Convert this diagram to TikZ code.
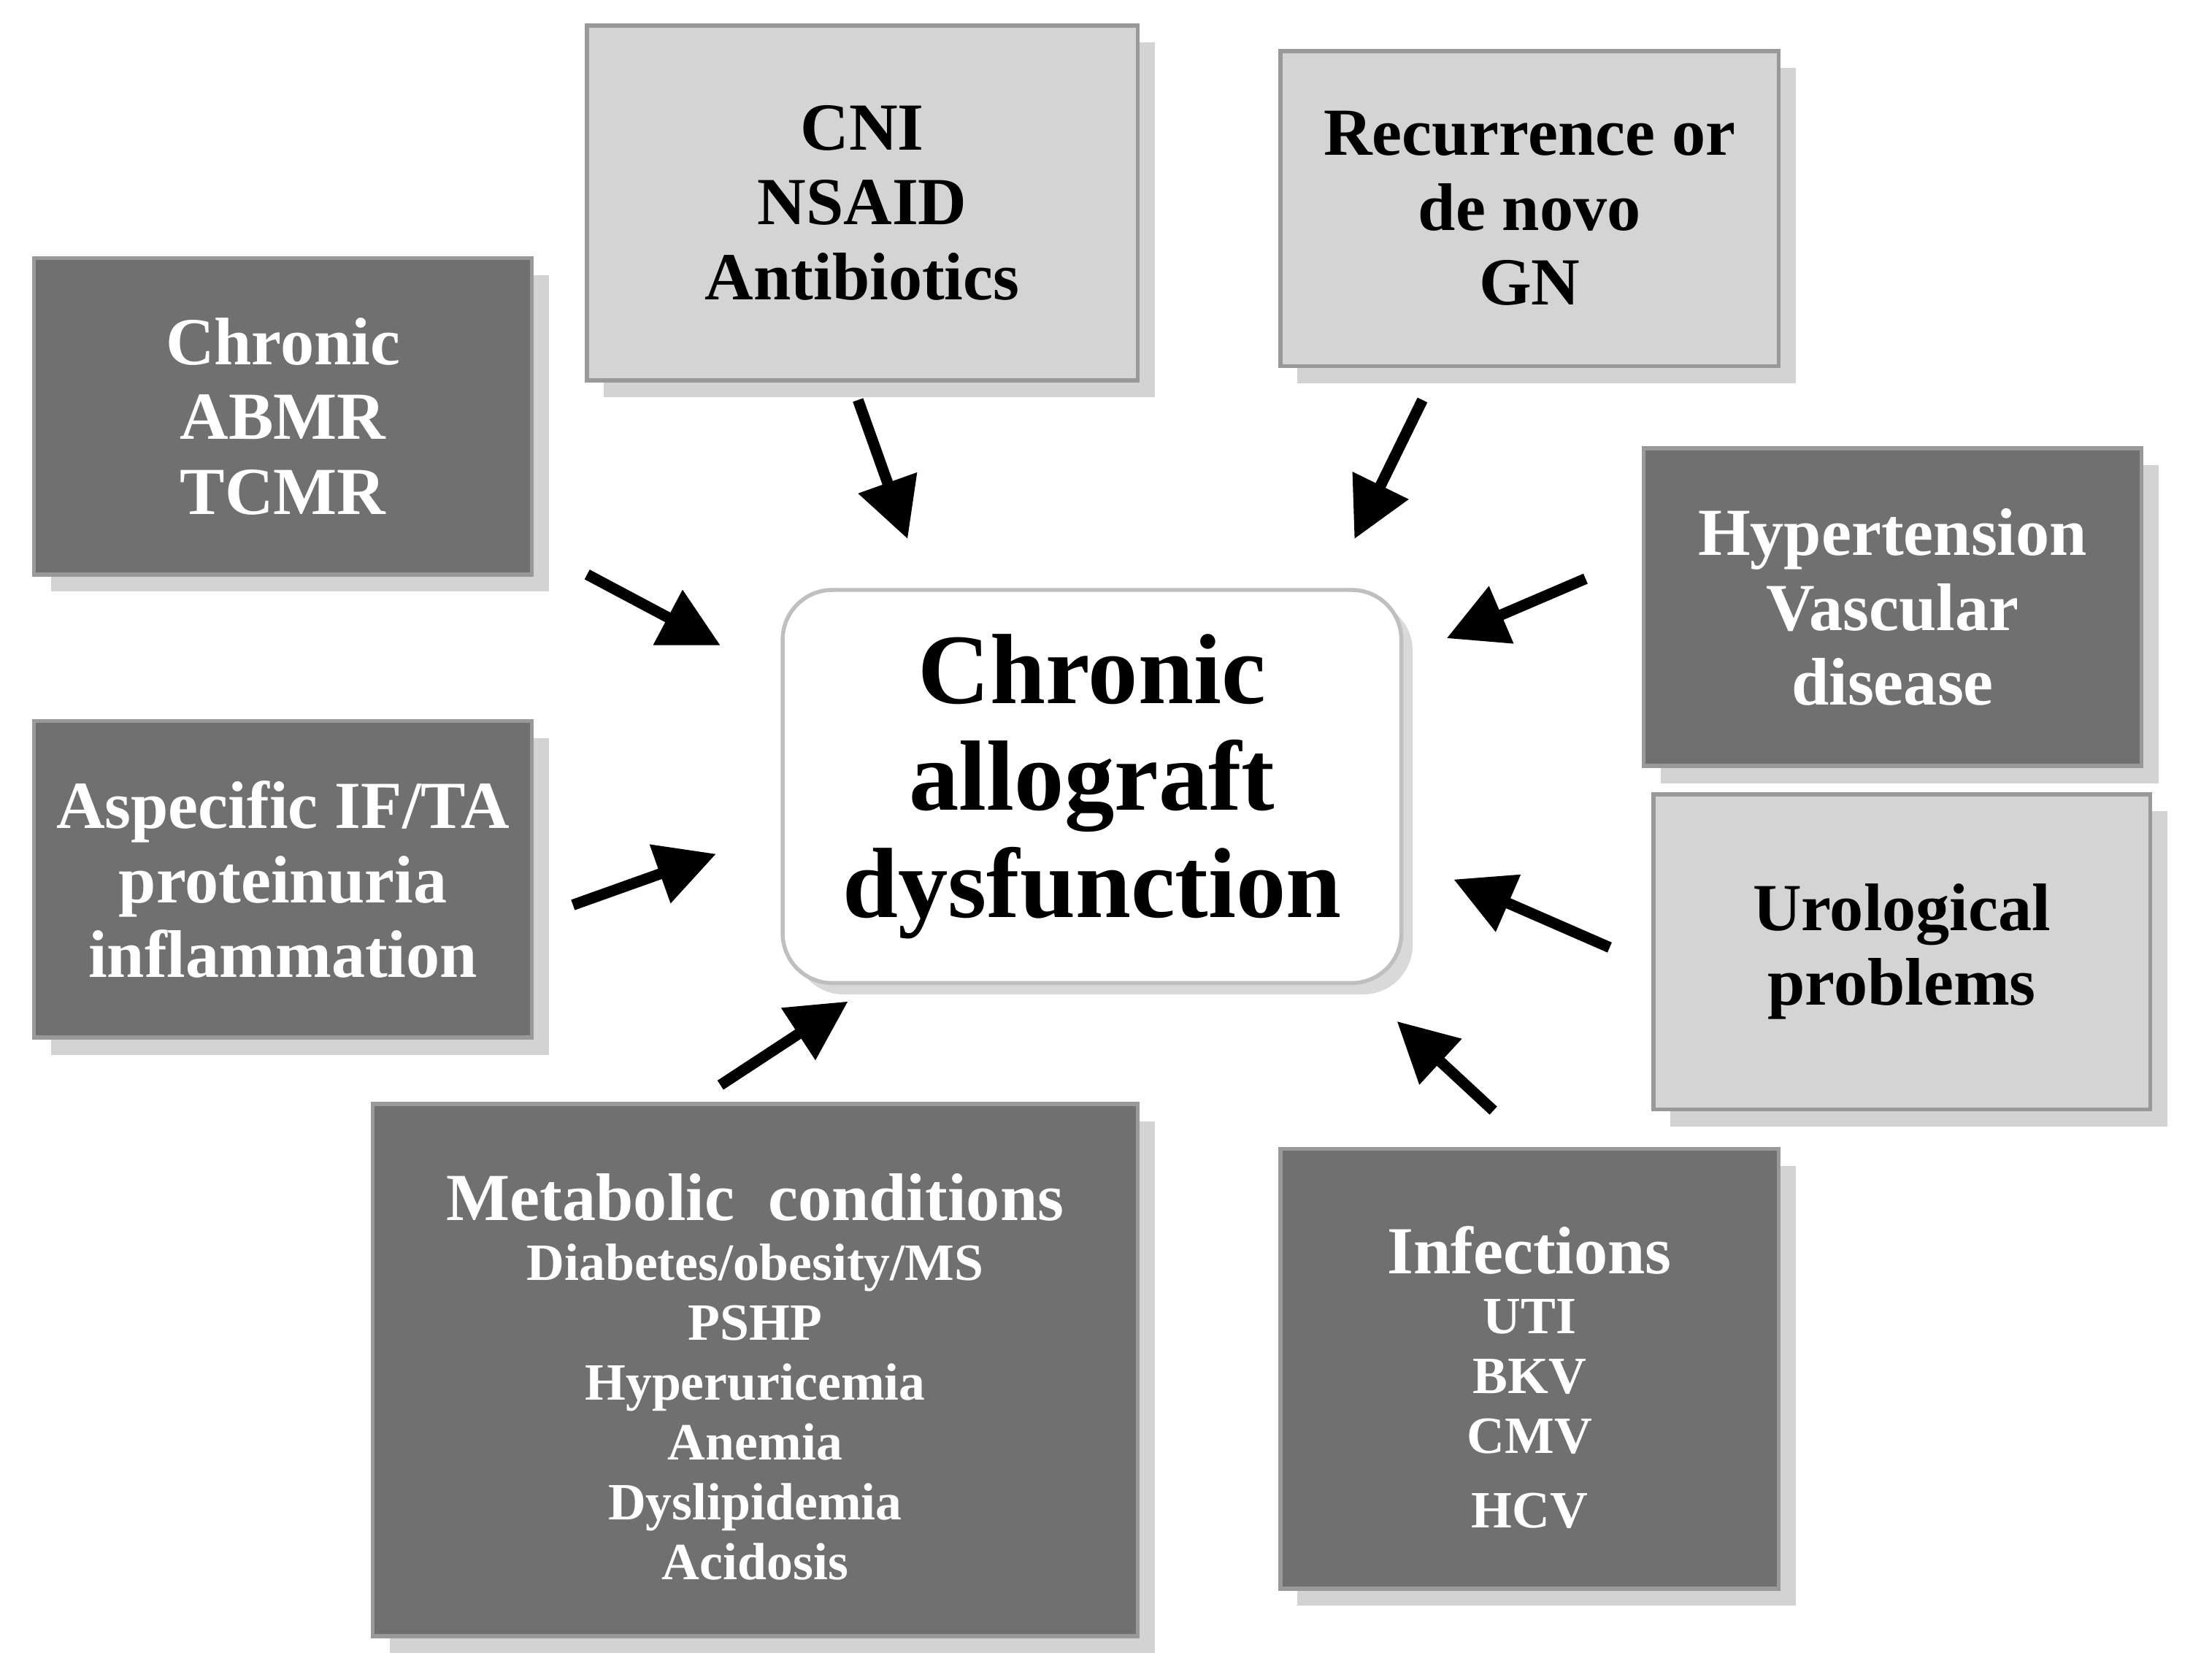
\documentclass[tikz,border=0pt]{standalone}
\usepackage{fontspec}
\setmainfont{Liberation Serif}
\usetikzlibrary{arrows.meta,shadows}
\definecolor{darkbox}{HTML}{707070}
\definecolor{lightbox}{HTML}{D4D4D4}
\newcommand{\headsize}{\fontsize{13.5}{15}\selectfont}
\tikzset{
  cause/.style={draw=black!40,line width=0.8pt,align=center,font=\bfseries\fontsize{13.5}{15}\selectfont,
    drop shadow={shadow xshift=0.12cm,shadow yshift=-0.12cm,opacity=0.35},inner sep=0pt},
  dark/.style={cause,fill=darkbox,text=white},
  light/.style={cause,fill=lightbox,text=black},
  push/.style={-{Triangle[length=0.42cm,width=0.42cm]},line width=2.2pt},
  listing/.style={align=center,text=white,font=\bfseries\fontsize{10.5}{12}\selectfont,anchor=north}
}
\begin{document}
\begin{tikzpicture}[x=0.01cm,y=-0.01cm]
  \useasboundingbox (0,0) rectangle (1552,1184);

  % boxes
  \node[dark,minimum width=3.51cm,minimum height=2.23cm] (chr) at (199.5,293.5) {Chronic\\ABMR\\TCMR};
  \node[light,minimum width=3.88cm,minimum height=2.5cm] (cni) at (608,143) {CNI\\NSAID\\Antibiotics};
  \node[light,minimum width=3.51cm,minimum height=2.22cm] (gn) at (1078.5,147) {Recurrence or\\de novo\\GN};
  \node[dark,minimum width=3.51cm,minimum height=2.24cm] (hyp) at (1334.5,428) {Hypertension\\Vascular\\disease};
  \node[light,minimum width=3.5cm,minimum height=2.22cm] (uro) at (1341,671) {Urological\\problems};
  \node[dark,minimum width=3.51cm,minimum height=2.23cm] (asp) at (199.5,620) {Aspecific IF/TA\\proteinuria\\inflammation};
  \node[dark,minimum width=5.39cm,minimum height=3.75cm,anchor=north] (met) at (532.5,777) {};
  \node[listing] (mett) at (532.5,815)
    {{\headsize Metabolic~~conditions}\\Diabetes/obesity/MS\\PSHP\\Hyperuricemia\\Anemia\\Dyslipidemia\\Acidosis};
  \node[dark,minimum width=3.51cm,minimum height=3.1cm] (inf) at (1078.5,965) {};
  \node[listing] (inft) at (1078.5,852)
    {{\headsize Infections}\\UTI\\BKV\\CMV\\[3pt]HCV};

  % centre
  \node[draw=black!25,line width=0.8pt,fill=white,rounded corners=0.35cm,minimum width=4.36cm,minimum height=2.77cm,
    align=center,font=\bfseries\fontsize{20}{21.5}\selectfont,
    drop shadow={shadow xshift=0.08cm,shadow yshift=-0.08cm,opacity=0.3}] (caf) at (770,554.5)
    {Chronic\\allograft\\dysfunction};

  % arrows
  \coordinate (a1) at (414,405); \coordinate (b1) at (508,455);
  \coordinate (a2) at (605,282); \coordinate (b2) at (640,380);
  \coordinate (a3) at (1003,282); \coordinate (b3) at (955,380);
  \coordinate (a4) at (1118,408); \coordinate (b4) at (1020,450);
  \coordinate (a5) at (1135,668); \coordinate (b5) at (1025,620);
  \coordinate (a6) at (1053,783); \coordinate (b6) at (985,720);
  \coordinate (a7) at (508,765); \coordinate (b7) at (598,706);
  \coordinate (a8) at (404,638); \coordinate (b8) at (505,602);
  \foreach \i in {1,...,8}
    \draw[push] (a\i) -- (b\i);
\end{tikzpicture}
\end{document}
